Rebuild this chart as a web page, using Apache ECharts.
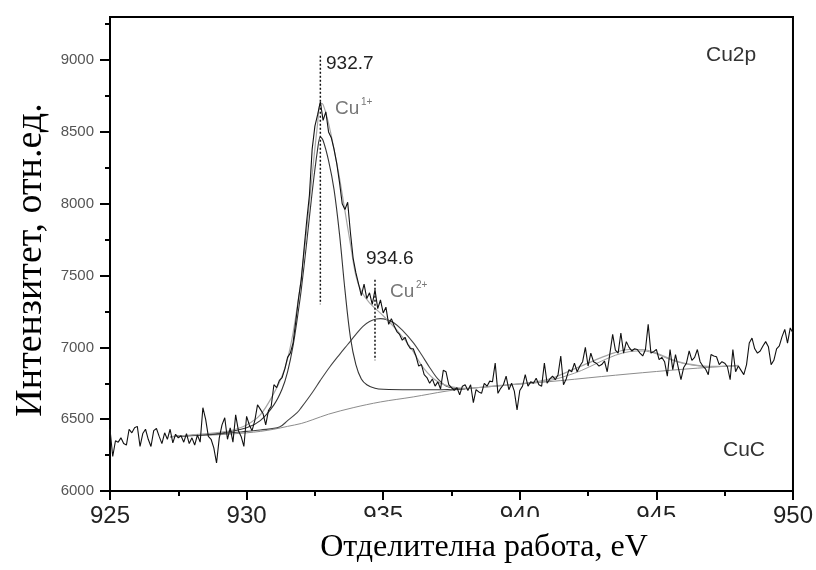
<!DOCTYPE html>
<html><head><meta charset="utf-8">
<script src="https://cdn.jsdelivr.net/npm/echarts@6/dist/echarts.min.js"></script>
<style>html,body{margin:0;padding:0;background:#fff}#c{width:816px;height:570px}</style>
</head><body><div id="c"></div><script>
// ---- measured spectrum (binding energy grid: 925.0 eV, step 0.1 eV) ----
const energyStart = 925.0;
const energyStep = 0.1;
const counts925 = [6430,6240,6350,6340,6370,6330,6320,6430,6405,6440,
  6450,6310,6400,6430,6360,6310,6420,6435,6380,6330,
  6405,6360,6430,6335,6395,6370,6385,6340,6400,6330,
  6370,6320,6390,6340,6580,6500,6380,6360,6300,6195,
  6370,6460,6510,6360,6440,6340,6530,6420,6380,6310];
const counts930 = [6520,6460,6420,6490,6600,6570,6540,6460,6560,6590,
  6740,6720,6770,6790,6850,6930,6960,7030,7180,7340,
  7470,7680,7880,8060,8380,8540,8620,8710,8580,8640,
  8500,8460,8380,8280,8150,8000,7960,8010,7800,7620,
  7520,7440,7360,7440,7340,7380,7300,7400,7270,7330];
const counts935 = [7240,7280,7160,7200,7150,7110,7090,7050,7070,7020,
  6990,6990,6940,6870,6880,6810,6790,6750,6780,6730,
  6760,6710,6840,6830,6740,6720,6700,6720,6670,6730,
  6740,6700,6740,6615,6705,6690,6680,6750,6730,6765,
  6760,6890,6680,6715,6740,6800,6705,6750,6695,6565];
const counts940 = [6700,6730,6810,6730,6760,6750,6785,6740,6730,6890,
  6750,6780,6800,6775,6810,6940,6740,6780,6845,6830,
  6890,6830,6870,6900,7000,6870,6960,6900,6890,6870,
  6880,6905,6830,6960,7090,6980,6960,7100,6960,7040,
  7000,6975,6990,6985,6960,6940,6985,7160,6960,6970];
const counts945 = [6985,6915,6930,6900,6800,6985,6845,6950,6860,6775,
  6860,6890,6975,6910,6930,6985,6900,6870,6850,6810,
  6950,6940,6935,6880,6900,6890,6865,6775,6985,6830,
  6870,6840,6810,6880,7030,7065,6990,6960,6975,7010,
  7040,7005,6880,6910,6990,7010,7075,7125,7030,7135,
  7100];

// ---- fitted curves [eV, intensity] ----
const backgroundFit = [[927.2,6378],[928,6385],[929,6392],[930,6405],[930.5,6415],[931,6430],[931.5,6450],[932,6470],[932.4,6495],[933,6535],[933.9,6580],[934.9,6620],[936.1,6655],[937.3,6695],[938,6712],[939,6728],[940,6745],[941,6760],[942,6778],[943,6797],[944,6815],[945,6832],[946,6848],[947,6862],[948,6875]];
const cu1Fit = [[927.2,6378],[928,6388],[929,6402],[930,6440],[930.5,6490],[931,6600],[931.3,6710],[931.5,6830],[931.7,7010],[931.9,7260],[932.0,7400],[932.2,7730],[932.4,8080],[932.6,8380],[932.7,8465],[932.8,8440],[933.0,8300],[933.2,8100],[933.4,7790],[933.6,7400],[933.8,7070],[934.0,6880],[934.2,6780],[934.4,6740],[934.7,6715],[935,6708],[936,6705],[937,6705],[937.5,6708],[938,6712]];
const cu2Fit = [[927.2,6378],[929,6398],[930,6415],[930.5,6425],[931.2,6445],[931.5,6490],[931.85,6545],[932.0,6580],[932.4,6684],[932.7,6770],[933.05,6865],[933.4,6950],[933.7,7020],[934.0,7090],[934.25,7145],[934.5,7180],[934.75,7198],[934.9,7200],[935.1,7195],[935.4,7170],[935.7,7120],[936.1,7033],[936.4,6950],[936.7,6860],[937.0,6780],[937.3,6730],[937.6,6715],[938,6712]];
const satelliteFit = [[938,6712],[939,6728],[940,6745],[941,6765],[942,6820],[942.5,6860],[943,6905],[943.5,6945],[944,6970],[944.5,6975],[945,6955],[945.5,6915],[946,6888],[946.5,6872],[947,6865],[948,6872]];
const envelopeFit = [[927.2,6378],[928,6390],[929,6408],[929.5,6425],[930,6460],[930.5,6530],[931,6680],[931.3,6800],[931.5,6920],[931.7,7100],[931.9,7340],[932.0,7480],[932.2,7820],[932.4,8200],[932.6,8560],[932.7,8700],[932.8,8690],[933.0,8560],[933.2,8380],[933.4,8180],[933.6,7950],[933.8,7720],[934.0,7500],[934.2,7390],[934.5,7310],[935.0,7220],[935.5,7120],[936.0,7000],[936.5,6850],[937.0,6760],[937.5,6725],[938,6715],[939,6730],[940,6748],[941,6775],[942,6850],[942.5,6890],[943,6930],[943.5,6965],[944,6985],[944.5,6985],[945,6960],[945.5,6920],[946,6890],[946.5,6875],[947,6868],[948,6872]];

// ---- peak markers ----
const peakCu1 = [[932.7,9030],[932.7,7300]];
const peakCu2 = [[934.7,7470],[934.7,6910]];

// ---- axis ticks ----
const xMajor = [925,930,935,940,945,950];
const xMinor = [927.5,932.5,937.5,942.5,947.5];
const yMajor = [6000,6500,7000,7500,8000,8500,9000];
const yMinor = [6250,6750,7250,7750,8250,8750,9250];

const counts = [].concat(counts925, counts930, counts935, counts940, counts945);
const spectrum = counts.map((v, i) => [+(energyStart + i * energyStep).toFixed(1), v]);

const chart = echarts.init(document.getElementById('c'), null, {renderer: 'canvas'});
const fitLine = (data, color, width) => ({
  type: 'line', data, smooth: 0.35, showSymbol: false, silent: true,
  lineStyle: {color, width}, z: 3
});
const dotted = (data) => ({
  type: 'line', data, showSymbol: false, silent: true,
  lineStyle: {color: '#111', width: 1.5, type: [2, 2]}, z: 6
});
chart.setOption({
  animation: false,
  backgroundColor: '#fff',
  grid: {left: 110, right: 23, top: 17, bottom: 79, show: true, borderColor: '#000', borderWidth: 2},
  xAxis: [{
    type: 'value', min: 925, max: 950, interval: 5,
    axisLine: {lineStyle: {color: '#000', width: 2}},
    axisTick: {customValues: xMajor, length: 9, lineStyle: {color: '#000', width: 2}},
    axisLabel: {customValues: xMajor, fontSize: 24, color: '#222', margin: 13, fontFamily: 'Liberation Sans'},
    splitLine: {show: false}
  }, {
    type: 'value', min: 925, max: 950, position: 'bottom',
    axisLine: {show: false},
    axisTick: {customValues: xMinor, length: 5, lineStyle: {color: '#000', width: 2}},
    axisLabel: {show: false}, splitLine: {show: false}
  }],
  yAxis: [{
    type: 'value', min: 6000, max: 9300, interval: 500,
    axisLine: {show: true, lineStyle: {color: '#000', width: 2}},
    axisTick: {show: true, customValues: yMajor, length: 10, lineStyle: {color: '#000', width: 2}},
    axisLabel: {customValues: yMajor, formatter: (v) => String(v), fontSize: 15, color: '#555', margin: 16, fontFamily: 'Liberation Sans'},
    splitLine: {show: false}
  }, {
    type: 'value', min: 6000, max: 9300, position: 'left',
    axisLine: {show: false},
    axisTick: {show: true, customValues: yMinor, length: 5, lineStyle: {color: '#000', width: 2}},
    axisLabel: {show: false}, splitLine: {show: false}
  }],
  series: [
    fitLine(backgroundFit, '#8c8c8c', 1),
    fitLine(satelliteFit, '#9a9a9a', 1),
    fitLine(cu2Fit, '#444', 1.1),
    fitLine(cu1Fit, '#333', 1.1),
    fitLine(envelopeFit, '#a6a6a6', 1.2),
    {type: 'line', data: spectrum, showSymbol: false, silent: true,
     lineStyle: {color: '#111', width: 1.1}, z: 4},
    dotted(peakCu1),
    dotted(peakCu2)
  ],
  graphic: [
    {type: 'text', left: 326, top: 54, style: {text: '932.7', font: '19px "Liberation Sans"', fill: '#222'}},
    {type: 'text', left: 335, top: 99, style: {text: 'Cu', font: '19px "Liberation Sans"', fill: '#777'}},
    {type: 'text', left: 361, top: 97, style: {text: '1+', font: '10px "Liberation Sans"', fill: '#777'}},
    {type: 'text', left: 366, top: 249, style: {text: '934.6', font: '19px "Liberation Sans"', fill: '#222'}},
    {type: 'text', left: 390, top: 282, style: {text: 'Cu', font: '19px "Liberation Sans"', fill: '#777'}},
    {type: 'text', left: 416, top: 280, style: {text: '2+', font: '10px "Liberation Sans"', fill: '#777'}},
    {type: 'text', left: 706, top: 45, style: {text: 'Cu2p', font: '21px "Liberation Sans"', fill: '#333'}},
    {type: 'text', left: 723, top: 440, style: {text: 'CuC', font: '21px "Liberation Sans"', fill: '#333'}},
    {type: 'rect', shape: {x: 300, y: 517, width: 400, height: 52}, style: {fill: '#fff'}, z: 100},
    {type: 'text', x: 484, y: 548, z: 101, style: {text: 'Отделителна работа, eV', font: '32px "Liberation Serif"', fill: '#000', textAlign: 'center', textVerticalAlign: 'middle'}},
    {type: 'text', x: 31, y: 260, rotation: Math.PI / 2, z: 101, style: {text: 'Интензитет, отн.ед.', font: '38px "Liberation Serif"', fill: '#000', textAlign: 'center', textVerticalAlign: 'middle'}}
  ]
});
</script></body></html>
